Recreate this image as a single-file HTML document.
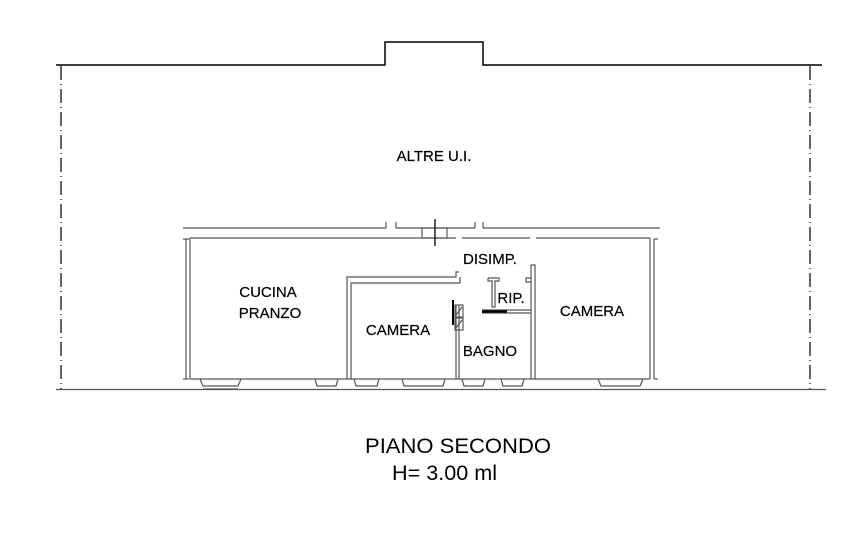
<!DOCTYPE html>
<html><head><style>
html,body{margin:0;padding:0;background:#fff;}
svg{display:block;}
text{font-family:"Liberation Sans",sans-serif;fill:#000;}
</style></head><body>
<svg width="866" height="540" viewBox="0 0 866 540" xmlns="http://www.w3.org/2000/svg">
<g fill="none" stroke="#000" stroke-width="1.5">
<polyline points="56,65 385,65 385,42 483,42 483,65 822,65"/>
</g>
<g stroke="#000" stroke-width="1.2" stroke-dasharray="14,4,1,4">
<line x1="61" y1="66" x2="61" y2="389"/>
<line x1="810" y1="66" x2="810" y2="389"/>
</g>
<line x1="56" y1="389.5" x2="826" y2="389.5" stroke="#555" stroke-width="1.2"/>
<g fill="none" stroke="#555" stroke-width="1.2">
<line x1="183" y1="228" x2="386" y2="228"/>
<line x1="396" y1="228" x2="475" y2="228"/>
<line x1="483" y1="228" x2="660" y2="228"/>
<line x1="386" y1="222" x2="386" y2="228"/><line x1="396" y1="222" x2="396" y2="228"/>
<line x1="475" y1="222" x2="475" y2="228"/><line x1="483" y1="222" x2="483" y2="228"/>
<line x1="190" y1="238" x2="456" y2="238"/>
<line x1="462" y1="238" x2="530" y2="238"/>
<line x1="536" y1="238" x2="650" y2="238"/>
<rect x="422" y="228" width="25" height="10"/>
<line x1="186" y1="239" x2="186" y2="379"/>
<line x1="190" y1="238" x2="190" y2="379"/>
<line x1="183" y1="239" x2="189" y2="239"/><line x1="183" y1="379" x2="189" y2="379"/>
<line x1="650" y1="238" x2="650" y2="379"/>
<line x1="654" y1="239" x2="654" y2="379"/>
<line x1="654" y1="239" x2="658" y2="239"/><line x1="654" y1="379" x2="658" y2="379"/>
<line x1="190" y1="379" x2="650" y2="379"/>
<polyline points="347,379 347,277 456,277 456,272 459,272"/>
<polyline points="351,379 351,283 460,283 460,277"/>
<line x1="456" y1="305" x2="456" y2="379"/>
<line x1="459" y1="305" x2="459" y2="379"/>
<polyline points="531,265 535,265 535,379"/>
<line x1="531" y1="265" x2="531" y2="379"/>
<polyline points="531,278 526,278 526,282 531,282"/>
<polyline points="488,278 499,278 499,281 495,281 495,307 492,307 492,281 488,281 488,278"/>
<line x1="482" y1="310" x2="531" y2="310"/>
<line x1="482" y1="313" x2="531" y2="313"/>
<rect x="455" y="305" width="8" height="12"/><rect x="455" y="318" width="8" height="12"/>
<line x1="456" y1="315" x2="462" y2="307"/><line x1="456" y1="328" x2="462" y2="320"/>
<g>
<polyline points="200,379 203,386 238,386 241,379"/><line x1="203" y1="389" x2="238" y2="389"/>
<polyline points="315,379 317,386 336,386 338,379"/>
<polyline points="354,379 356,386 377,386 379,379"/>
<polyline points="402,379 404,386 443,386 445,379"/>
<polyline points="462,379 464,386 483,386 485,379"/>
<polyline points="501,379 503,386 522,386 524,379"/>
<polyline points="598,379 601,386 640,386 643,379"/>
</g>
</g>
<line x1="435" y1="219" x2="435" y2="246" stroke="#000" stroke-width="1.3"/>
<line x1="453" y1="300" x2="453" y2="325" stroke="#000" stroke-width="2"/>
<line x1="482" y1="311.5" x2="507" y2="311.5" stroke="#000" stroke-width="2.5"/>
<g font-size="15" stroke="#000" stroke-width="0.2">
<text x="434" y="161" text-anchor="middle">ALTRE U.I.</text>
<text x="268" y="297" text-anchor="middle">CUCINA</text>
<text x="270" y="318" text-anchor="middle">PRANZO</text>
<text x="398" y="335" text-anchor="middle">CAMERA</text>
<text x="490" y="264" text-anchor="middle">DISIMP.</text>
<text x="511" y="303" text-anchor="middle">RIP.</text>
<text x="490" y="356" text-anchor="middle">BAGNO</text>
<text x="592" y="316" text-anchor="middle">CAMERA</text>
</g>
<text x="365" y="453" font-size="21.5" textLength="186" lengthAdjust="spacingAndGlyphs">PIANO SECONDO</text>
<text x="392" y="480" font-size="21.5" textLength="105" lengthAdjust="spacingAndGlyphs">H= 3.00 ml</text>
</svg>
</body></html>
